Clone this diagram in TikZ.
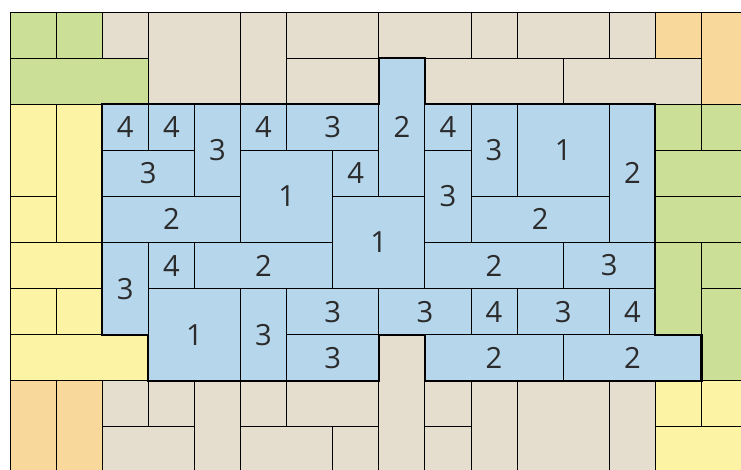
\documentclass[tikz,border=0pt]{standalone}
\usepackage{fontspec}
\setsansfont{Open Sans}
\usetikzlibrary{positioning}
\definecolor{tilegreen}{HTML}{CCDF97}
\definecolor{tilebeige}{HTML}{E5DECE}
\definecolor{tileyellow}{HTML}{FCF4A4}
\definecolor{tileorange}{HTML}{F9D89B}
\definecolor{tileblue}{HTML}{B6D6EC}
\definecolor{inkgray}{HTML}{2B2B2B}

\begin{document}
\begin{tikzpicture}[x=1cm, y=-1cm,
    tile/.style={draw=black, line width=0.6pt},
    numlabel/.style={font=\sffamily\fontsize{18}{21}\selectfont, text=inkgray, inner sep=0pt}]
  \useasboundingbox (-0.217,-0.260) rectangle (15.857,9.914);
  \clip (-0.217,-0.260) rectangle (15.857,9.914);
  % Beige tiles
  \foreach \c/\r/\w/\h in {2/0/1/1, 3/0/2/2, 5/0/1/2, 6/0/2/1, 6/1/2/1, 8/0/2/1, 10/0/1/1,
      11/0/2/1, 13/0/1/1, 9/1/3/1, 12/1/3/1, 8/7/1/3, 2/8/1/1, 3/8/1/1, 2/9/2/1, 4/8/1/2,
      5/8/1/1, 6/8/2/1, 5/9/2/1, 7/9/1/1, 9/8/1/1, 9/9/1/1, 10/8/1/2, 11/8/2/2, 13/8/1/2}
    \draw[tile, fill=tilebeige] (\c,\r) rectangle ++(\w,\h);
  % Green tiles
  \foreach \c/\r/\w/\h in {0/0/1/1, 1/0/1/1, 0/1/3/1, 14/2/1/1, 15/2/1/1, 14/3/2/1,
      14/4/2/1, 14/5/1/2, 15/5/1/1, 15/6/1/2}
    \draw[tile, fill=tilegreen] (\c,\r) rectangle ++(\w,\h);
  % Yellow tiles
  \foreach \c/\r/\w/\h in {0/2/1/2, 1/2/1/3, 0/4/1/1, 0/5/2/1, 0/6/1/1, 1/6/1/1, 0/7/3/1,
      14/8/1/1, 15/8/1/1, 14/9/2/1}
    \draw[tile, fill=tileyellow] (\c,\r) rectangle ++(\w,\h);
  % Orange tiles
  \foreach \c/\r/\w/\h in {14/0/1/1, 15/0/1/2, 0/8/1/2, 1/8/1/2}
    \draw[tile, fill=tileorange] (\c,\r) rectangle ++(\w,\h);
  % Blue tiles with numbers
  \foreach \c/\r/\w/\h/\n in {2/2/1/1/4, 3/2/1/1/4, 4/2/1/2/3, 5/2/1/1/4, 6/2/2/1/3,
      8/1/1/3/2, 9/2/1/1/4, 10/2/1/2/3, 11/2/2/2/1, 13/2/1/3/2,
      2/3/2/1/3, 5/3/2/2/1, 7/3/1/1/4, 9/3/1/2/3,
      2/4/3/1/2, 7/4/2/2/1, 10/4/3/1/2,
      2/5/1/2/3, 3/5/1/1/4, 4/5/3/1/2, 9/5/3/1/2, 12/5/2/1/3,
      3/6/2/2/1, 5/6/1/2/3, 6/6/2/1/3, 8/6/2/1/3, 10/6/1/1/4, 11/6/2/1/3, 13/6/1/1/4,
      6/7/2/1/3, 9/7/3/1/2, 12/7/3/1/2}
  {
    \draw[tile, fill=tileblue] (\c,\r) rectangle ++(\w,\h);
    \node[numlabel] (b\c-\r) at ({\c+\w/2},{\r+\h/2}) {\n};
  }
  % Outline of the blue region
  \draw[line width=1.3pt, line join=miter] (2,2) -- (8,2) -- (8,1) -- (9,1) -- (9,2) -- (14,2)
    -- (14,7) -- (15,7) -- (15,8) -- (9,8) -- (9,7) -- (8,7) -- (8,8) -- (3,8) -- (3,7)
    -- (2,7) -- cycle;
\end{tikzpicture}
\end{document}
